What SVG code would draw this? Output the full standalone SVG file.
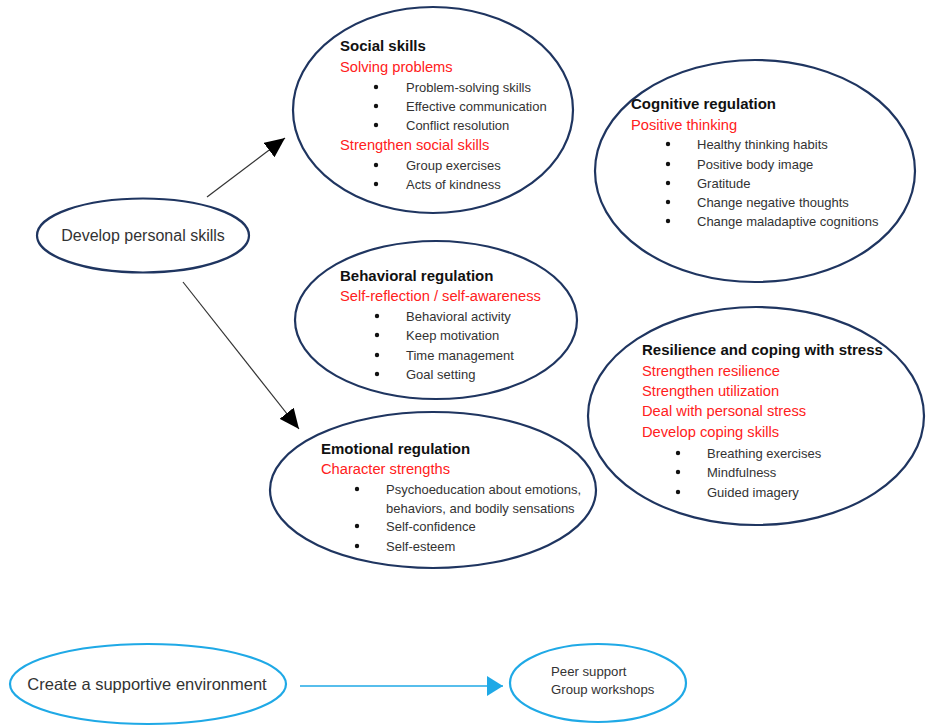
<svg xmlns="http://www.w3.org/2000/svg" width="926" height="726" viewBox="0 0 926 726">
<style>
.node{fill:#fff;stroke:#1f3560;stroke-width:2.2}
.bnode{fill:#fff;stroke:#1fa9e6;stroke-width:2.2}
text{font-family:"Liberation Sans",Arial,sans-serif}
.t{font-size:15px;font-weight:bold;fill:#111}
.r{font-size:14.7px;fill:#ff2020}
.i{font-size:13px;fill:#333}
.m{font-size:16px;fill:#333}
.m2{font-size:16.5px;fill:#333}
.s{font-size:13.2px;fill:#333}
.blt{fill:#111}
.conn{stroke:#333;stroke-width:1.2;fill:none}
.bconn{stroke:#1fa9e6;stroke-width:1.6;fill:none}
</style>
<defs>
<marker id="ah" markerWidth="22" markerHeight="18" refX="20" refY="9" orient="auto" markerUnits="userSpaceOnUse">
<path d="M0,0 L20,9 L0,18 Z" fill="#000"/>
</marker>
<marker id="bh" markerWidth="18" markerHeight="20" refX="16" refY="10" orient="auto" markerUnits="userSpaceOnUse">
<path d="M0,0 L16,10 L0,20 Z" fill="#1fa9e6"/>
</marker>
</defs>
<rect width="926" height="726" fill="#fff"/>

<g id="connectors">
<line class="conn" x1="207" y1="197" x2="285" y2="138" marker-end="url(#ah)"/>
<line class="conn" x1="183" y1="282" x2="299" y2="429" marker-end="url(#ah)"/>
<line class="bconn" x1="300" y1="686" x2="503" y2="686" marker-end="url(#bh)"/>
</g>

<g id="develop">
<ellipse class="node" cx="143" cy="235.5" rx="106" ry="37"/>
<text class="m" x="143" y="241" text-anchor="middle">Develop personal skills</text>
</g>

<g id="social">
<ellipse class="node" cx="433" cy="110" rx="140" ry="103"/>
<text class="t" x="340" y="51">Social skills</text>
<text class="r" x="340" y="72">Solving problems</text>
<circle class="blt" cx="376" cy="87" r="2.2"/><text class="i" x="406" y="91.5">Problem-solving skills</text>
<circle class="blt" cx="376" cy="106" r="2.2"/><text class="i" x="406" y="110.5">Effective communication</text>
<circle class="blt" cx="376" cy="125" r="2.2"/><text class="i" x="406" y="129.5">Conflict resolution</text>
<text class="r" x="340" y="150">Strengthen social skills</text>
<circle class="blt" cx="376" cy="165" r="2.2"/><text class="i" x="406" y="169.5">Group exercises</text>
<circle class="blt" cx="376" cy="184" r="2.2"/><text class="i" x="406" y="188.5">Acts of kindness</text>
</g>

<g id="cognitive">
<ellipse class="node" cx="755" cy="171" rx="160" ry="111"/>
<text class="t" x="631" y="109">Cognitive regulation</text>
<text class="r" x="631" y="130">Positive thinking</text>
<circle class="blt" cx="668" cy="144" r="2.2"/><text class="i" x="697" y="148.5">Healthy thinking habits</text>
<circle class="blt" cx="668" cy="164" r="2.2"/><text class="i" x="697" y="168.5">Positive body image</text>
<circle class="blt" cx="668" cy="183" r="2.2"/><text class="i" x="697" y="187.5">Gratitude</text>
<circle class="blt" cx="668" cy="202" r="2.2"/><text class="i" x="697" y="206.5">Change negative thoughts</text>
<circle class="blt" cx="668" cy="221" r="2.2"/><text class="i" x="697" y="225.5">Change maladaptive cognitions</text>
</g>

<g id="behavioral">
<ellipse class="node" cx="436" cy="320" rx="141" ry="79"/>
<text class="t" x="340" y="281">Behavioral regulation</text>
<text class="r" x="340" y="301">Self-reflection / self-awareness</text>
<circle class="blt" cx="377" cy="316" r="2.2"/><text class="i" x="406" y="320.5">Behavioral activity</text>
<circle class="blt" cx="377" cy="335" r="2.2"/><text class="i" x="406" y="339.5">Keep motivation</text>
<circle class="blt" cx="377" cy="355" r="2.2"/><text class="i" x="406" y="359.5">Time management</text>
<circle class="blt" cx="377" cy="374" r="2.2"/><text class="i" x="406" y="378.5">Goal setting</text>
</g>

<g id="emotional">
<ellipse class="node" cx="433" cy="490" rx="163" ry="78"/>
<text class="t" x="321" y="454">Emotional regulation</text>
<text class="r" x="321" y="474">Character strengths</text>
<circle class="blt" cx="357" cy="489" r="2.2"/><text class="i" x="386" y="493.5">Psychoeducation about emotions,</text>
<text class="i" x="386" y="512.5">behaviors, and bodily sensations</text>
<circle class="blt" cx="357" cy="526" r="2.2"/><text class="i" x="386" y="530.5">Self-confidence</text>
<circle class="blt" cx="357" cy="546" r="2.2"/><text class="i" x="386" y="550.5">Self-esteem</text>
</g>

<g id="resilience">
<ellipse class="node" cx="756" cy="416" rx="168" ry="109"/>
<text class="t" x="642" y="355">Resilience and coping with stress</text>
<text class="r" x="642" y="376">Strengthen resilience</text>
<text class="r" x="642" y="396">Strengthen utilization</text>
<text class="r" x="642" y="416">Deal with personal stress</text>
<text class="r" x="642" y="437">Develop coping skills</text>
<circle class="blt" cx="678" cy="453" r="2.2"/><text class="i" x="707" y="457.5">Breathing exercises</text>
<circle class="blt" cx="678" cy="472" r="2.2"/><text class="i" x="707" y="476.5">Mindfulness</text>
<circle class="blt" cx="678" cy="492" r="2.2"/><text class="i" x="707" y="496.5">Guided imagery</text>
</g>

<g id="supportive">
<ellipse class="bnode" cx="148" cy="684" rx="138" ry="40"/>
<text class="m2" x="147" y="690" text-anchor="middle">Create a supportive environment</text>
</g>

<g id="peer">
<ellipse class="bnode" cx="598" cy="683" rx="88" ry="39"/>
<text class="s" x="551" y="675.5">Peer support</text>
<text class="s" x="551" y="693.5">Group workshops</text>
</g>
</svg>
